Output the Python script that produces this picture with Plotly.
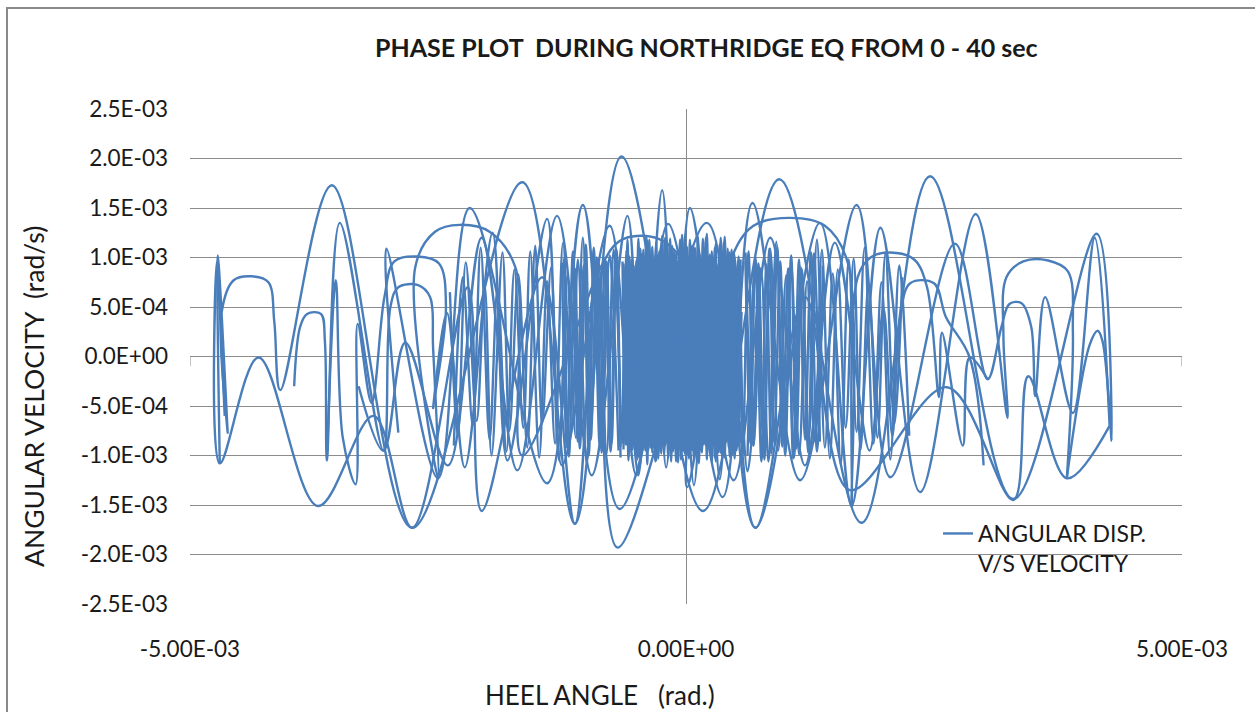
import plotly.graph_objects as go

# ---- values (units of 1e-4 rad and 1e-4 rad/s) ----
SEG1_X = [-47.0,-47.2,-46.2,-46.8,-45.6,-43.8,-42.1,-41.5,-40.9,-35.7,-27.6,-16.5,-11.2,-6.5,1.7,9.4,17.7,24.6,33.0,41.4,42.9,42.0,41.5,40.7,38.4]
SEG1_Y = [-10.8,10.2,-7.7,4.5,7.7,8.1,7.5,3.5,-3.4,17.3,-17.3,17.6,-16.9,20.2,-15.6,17.9,-16.8,18.2,-14.4,12.4,-8.5,1.5,2.6,1.2,-12.2]

SEG2_X = [38.4,39.0,38.5,36.5,34.0,32.3,32.0,32.4,29.2,23.6,19.6,16.7,13.5,7.0,2.1,-6.7,-10.4,-14.0,-21.8,-25.0,-30.2,-29.0]
SEG2_Y = [-12.2,2.5,8.6,9.7,9.6,8.0,2.0,-6.2,14.4,-13.7,13.0,-15.1,13.5,-17.3,13.5,-15.4,15.3,-12.8,15.0,-12.3,10.9,-7.7]

SEG3_X = [-36.2,-35.3,-34.6,-33.3,-33.1,-31.7,-30.4,-29.4,-27.1,-24.9,-24.2,-25.5,-24.1,-22.3,-19.5,-18.0,-14.0,-12.5,-7.7,-5.0,-1.8,3.7,6.7,11.5,17.2,20.6,27.1,30.4,31.8,32.6,33.8,34.8,35.2,36.2,39.0,41.2,42.7]
SEG3_Y = [-10.5,7.7,-8.2,-12.9,3.3,-4.7,6.0,9.6,10.1,9.4,5.0,-5.2,4.4,-11.2,12.5,-10.5,13.9,-11.0,13.2,-12.0,13.4,-14.2,15.5,-12.5,15.3,-12.2,11.4,-2.3,3.0,5.3,5.4,3.0,-4.0,6.0,-5.7,12.0,-7.0]

SEG4_X = [42.7,38.4,34.5,33.0,26.3,16.5,12.0,7.0,3.0,-6.9,-9.0,-11.2,-14.5,-20.6,-22.0,-27.6,-31.5,-37.1,-43.1,-47.0,-47.3,-46.5]
SEG4_Y = [-7.0,-12.3,-2.0,-14.5,-3.1,-13.5,6.0,-17.3,8.0,-19.3,9.0,-16.9,8.0,-15.6,7.0,-17.3,-6.0,-15.1,-0.1,-10.8,9.5,-6.0]

SEG5_X = [-39.5,-38.9,-38.2,-36.8,-36.4,-36.2,-34.9,-30.5,-29.8,-29.0,-27.0,-25.8,-25.5,-25.0,-27.3,-25.3,-22.8,-19.8,-17.2,-16.5,-8.6,-6.8,-4.6,-2.2,0.2,0.1,4.4,6.8,10.5,14.0,16.3,16.7,17.3,18.6,20.6,23.0,24.3,25.5,25.8,27.9,28.6,30.4]
SEG5_Y = [-3.0,3.0,4.3,4.3,1.5,-10.5,13.5,-9.5,5.0,7.0,7.2,6.0,1.0,-12.3,9.0,12.6,13.3,12.6,9.0,-10.0,9.0,11.6,12.2,11.6,8.5,-13.2,9.5,13.2,14.0,13.2,9.5,-15.1,8.0,10.0,10.5,9.8,7.0,-4.1,2.4,-9.0,-0.1,-2.3]

SEG6_X = [30.0,28.6,26.2,25.0,22.6,21.6,20.8,19.9,18.5,15.0,12.0,8.5,4.8,0.4,-1.0,-2.4,-4.5,-5.9,-9.5,-13.0,-17.0,-20.6,-24.0,-28.3,-30.5,-33.0]
SEG6_Y = [-11.0,-0.1,4.0,7.4,7.4,4.0,-8.0,4.9,-9.5,11.5,-11.0,12.0,-12.5,15.0,-8.0,16.8,-9.0,14.2,-12.0,14.2,-11.5,12.0,-11.0,1.4,-9.5,-3.0]

MID_E_X = [-23.8,-23.0,-22.2,-21.1,-20.3,-19.6,-18.5,-17.8,-16.9,-16.0,-15.2,-14.5,-13.6,-12.8,-12.0,-11.1,-10.4,-9.6,-8.8,-8.0,-7.3,-6.5]
MID_E_Y = [6.5,-8.0,9.5,-6.5,7.2,-10.0,10.5,-7.5,8.3,-9.2,11.2,-6.8,9.0,-10.5,8.0,-8.2,12.0,-7.0,9.6,-9.8,10.8,-8.5]

MID_F_X = [-6.8,-7.7,-8.5,-9.2,-10.0,-10.9,-11.5,-12.4,-13.2,-14.0,-14.8,-15.7,-16.4,-17.3,-18.1,-19.0,-19.8,-20.7,-21.5,-22.5,-23.4]
MID_F_Y = [-9.5,10.2,-7.8,8.6,-10.8,9.8,-6.9,11.5,-8.8,7.6,-10.2,10.6,-7.2,8.8,-9.6,6.9,-8.4,11.0,-7.0,8.0,-9.0]

MID_G_X = [6.0,6.8,7.6,8.3,9.1,9.9,10.6,11.4,12.2,13.0,13.7,14.5,15.3,16.1,16.9,17.6,18.4,19.3,20.1,21.0,21.8]
MID_G_Y = [10.5,-9.0,8.6,-10.6,11.6,-7.8,9.4,-9.9,7.6,-8.6,10.8,-10.3,8.8,-7.2,9.9,-9.4,7.4,-8.2,10.4,-6.8,8.0]

MID_H_X = [22.5,21.5,20.6,19.7,18.9,18.0,17.2,16.4,15.6,14.8,14.0,13.2,12.4,11.6,10.9,10.1,9.3,8.5,7.8,7.0,6.2]
MID_H_Y = [-8.0,9.2,-10.4,7.5,-8.8,11.0,-7.6,9.8,-10.9,8.4,-9.2,11.8,-7.9,9.0,-10.2,8.2,-9.5,10.9,-8.3,9.6,-10.0]

NEAR_L_X = [-12.5,-12.0,-11.4,-10.9,-10.3,-9.8,-9.3,-8.7,-8.2,-7.6,-7.1,-6.6]
NEAR_L_Y = [9.5,-9.2,10.6,-8.6,9.2,-10.0,11.0,-9.0,9.8,-9.6,10.4,-9.1]
NEAR_L2_X = [-6.6,-7.0,-7.5,-8.0,-8.5,-9.0,-9.6,-10.1,-10.7,-11.2,-11.8,-12.3]
NEAR_L2_Y = [-10.2,10.8,-8.8,9.6,-9.7,10.0,-8.4,11.3,-9.3,8.9,-10.1,9.9]
NEAR_R_X = [5.8,6.3,6.8,7.3,7.9,8.4,8.9,9.5,10.0,10.6,11.1,11.7,12.3,12.9,13.5]
NEAR_R_Y = [-9.9,10.6,-9.0,9.4,-10.4,10.9,-8.7,9.6,-10.0,10.2,-9.3,8.8,-9.7,10.4,-8.6]
NEAR_R2_X = [13.8,13.2,12.6,12.0,11.4,10.8,10.3,9.7,9.2,8.6,8.1,7.6,7.0,6.5,6.0]
NEAR_R2_Y = [9.2,-9.6,10.5,-8.4,9.8,-10.3,8.9,-9.1,11.1,-9.8,9.3,-10.6,10.0,-8.8,9.6]
NEAR_B_X = [-6.0,-4.8,-3.2,-2.0,-0.6,0.8,2.2,3.4,4.8,6.2,7.5]
NEAR_B_Y = [8.0,-12.0,9.5,-11.2,10.0,-13.0,9.0,-12.4,10.5,-11.6,9.0]

CORE_A_X = [-6.4,-6.1,-5.9,-5.5,-5.3,-4.9,-4.6,-4.4,-4.0,-3.8,-3.4,-3.1,-2.9,-2.5,-2.2,-1.9,-1.6,-1.3,-1.0,-0.8,-0.4,-0.1,0.2,0.5,0.7,1.1,1.4,1.6,2.0,2.3,2.6,2.9,3.1,3.5,3.8,4.1,4.4,4.7,5.0,5.4]
CORE_A_Y = [9.6,-8.9,11.8,-9.3,9.1,-10.4,10.9,-8.5,12.2,-9.5,11.1,-10.6,10.2,-9.8,8.9,-8.8,11.9,-9.6,10.4,-10.7,12.3,-9.9,9.8,-9.0,11.2,-10.5,10.3,-9.7,12.0,-9.1,10.6,-10.2,9.3,-9.7,11.5,-8.6,10.5,-9.9,9.0,-8.7]

CORE_B_X = [5.7,5.3,4.9,4.6,4.3,3.9,3.6,3.4,3.0,2.7,2.5,2.1,1.8,1.5,1.3,0.9,0.6,0.4,0.0,-0.3,-0.5,-0.9,-1.2,-1.4,-1.8,-2.1,-2.3,-2.7,-3.0,-3.2,-3.6,-3.9,-4.1,-4.5,-4.8,-5.0,-5.4,-5.7,-6.0,-6.3]
CORE_B_Y = [-9.0,10.1,-10.3,10.8,-9.2,12.1,-9.9,11.3,-10.6,10.0,-9.6,12.4,-8.9,9.9,-10.8,11.0,-9.5,11.8,-9.1,10.9,-10.4,9.6,-9.3,11.2,-10.2,12.0,-9.0,10.6,-10.5,9.8,-9.2,11.7,-9.5,10.3,-10.1,9.7,-9.4,10.1,-8.9,9.4]

CORE_C_X = [-6.2,-5.7,-5.2,-4.8,-4.2,-3.6,-3.2,-2.7,-2.0,-1.5,-1.1,-0.5,0.0,0.6,1.0,1.5,2.2,2.8,3.3,3.7,4.3,4.9,5.5]
CORE_C_Y = [7.5,-7.0,8.2,-6.5,7.8,-7.8,6.9,-7.2,8.5,-6.8,7.4,-8.0,7.0,-7.5,8.3,-6.9,7.7,-7.9,6.8,-7.3,8.1,-6.6,7.2]

CORE_D_X = [5.6,5.0,4.5,3.9,3.5,2.9,2.4,1.9,1.3,0.8,0.3,-0.2,-0.8,-1.3,-1.7,-2.3,-2.9,-3.4,-3.9,-4.5,-5.0,-5.5,-6.1]
CORE_D_Y = [-6.2,5.8,-5.5,6.4,-6.0,5.2,-6.6,5.9,-5.3,6.2,-5.8,5.6,-6.4,5.0,-5.9,6.3,-5.4,5.7,-6.1,5.3,-5.7,6.0,-5.2]

CORE_E_X = [-6.3,-6.0,-5.8,-5.4,-5.1,-4.8,-4.5,-4.2,-3.9,-3.7,-3.3,-3.0,-2.8,-2.4,-2.1,-1.8,-1.5,-1.2,-0.9,-0.6,-0.3,0.1,0.3,0.6,0.9,1.2,1.5,1.9,2.1,2.4,2.8,3.0,3.3,3.6,3.9,4.2,4.6,4.8,5.2,5.5]
CORE_E_Y = [-9.4,10.7,-10.5,9.8,-9.8,11.9,-8.8,10.1,-10.9,10.5,-9.2,11.6,-9.9,12.2,-9.0,10.0,-10.6,10.6,-8.9,11.8,-9.6,11.1,-10.3,10.2,-9.8,12.1,-9.1,10.9,-10.4,10.3,-9.0,11.4,-9.7,10.6,-10.2,10.0,-8.8,9.6,-9.1,9.2]

CORE_F_X = [5.5,5.1,4.8,4.4,4.2,3.8,3.5,3.2,2.9,2.6,2.3,2.0,1.7,1.4,1.1,0.8,0.5,0.2,-0.1,-0.4,-0.7,-1.0,-1.3,-1.6,-1.9,-2.2,-2.5,-2.8,-3.1,-3.4,-3.7,-4.0,-4.3,-4.6,-4.9,-5.2,-5.5,-5.8,-6.1,-6.4]
CORE_F_Y = [9.8,-9.5,10.4,-10.1,10.9,-9.7,12.0,-9.3,11.0,-10.7,10.1,-9.0,11.9,-9.6,9.7,-10.4,11.2,-9.9,12.3,-9.1,10.8,-10.6,9.8,-9.4,11.6,-9.8,11.1,-10.3,10.2,-9.7,11.8,-9.3,10.8,-10.5,10.0,-9.0,9.7,-9.4,9.2,-8.8]

CORE_G_X = [-6.2,-5.9,-5.5,-5.1,-4.8,-4.4,-4.1,-3.7,-3.4,-3.0,-2.6,-2.3,-1.9,-1.6,-1.2,-0.9,-0.5,-0.2,0.2,0.5,0.9,1.2,1.6,1.9,2.3,2.6,3.0,3.4,3.7,4.1,4.4,4.8,5.1,5.5]
CORE_G_Y = [-8.0,8.8,-7.4,9.2,-8.3,8.0,-7.7,9.4,-8.6,8.3,-7.2,9.0,-8.4,8.6,-7.9,9.3,-8.1,8.2,-7.6,9.1,-8.7,8.4,-7.3,9.2,-8.2,8.7,-7.8,9.0,-8.5,8.1,-7.5,8.9,-8.0,8.3]

CORE_H_X = [5.6,5.2,4.7,4.3,3.8,3.4,3.0,2.5,2.1,1.7,1.2,0.8,0.4,-0.1,-0.5,-1.0,-1.4,-1.8,-2.3,-2.7,-3.1,-3.6,-4.0,-4.4,-4.9,-5.3,-5.8,-6.2]
CORE_H_Y = [4.5,-4.8,5.2,-4.2,4.9,-5.4,4.3,-4.6,5.5,-4.1,4.7,-5.2,4.4,-4.9,5.3,-4.4,4.8,-5.1,4.2,-4.7,5.4,-4.3,4.6,-5.0,4.9,-4.5,5.1,-4.4]

SEGMENTS = [
    (SEG1_X, SEG1_Y), (SEG2_X, SEG2_Y), (SEG3_X, SEG3_Y), (SEG4_X, SEG4_Y),
    (SEG5_X, SEG5_Y), (SEG6_X, SEG6_Y),
    (MID_E_X, MID_E_Y), (MID_F_X, MID_F_Y), (MID_G_X, MID_G_Y), (MID_H_X, MID_H_Y),
    (NEAR_L_X, NEAR_L_Y), (NEAR_L2_X, NEAR_L2_Y), (NEAR_R_X, NEAR_R_Y), (NEAR_R2_X, NEAR_R2_Y),
    (NEAR_B_X, NEAR_B_Y),
    (CORE_A_X, CORE_A_Y), (CORE_B_X, CORE_B_Y), (CORE_C_X, CORE_C_Y), (CORE_D_X, CORE_D_Y),
    (CORE_E_X, CORE_E_Y), (CORE_F_X, CORE_F_Y), (CORE_G_X, CORE_G_Y), (CORE_H_X, CORE_H_Y),
]
UNIT = 1e-4

Y_TICK_VALUES = [-2.5e-3, -2.0e-3, -1.5e-3, -1.0e-3, -5.0e-4, 0.0, 5.0e-4, 1.0e-3, 1.5e-3, 2.0e-3, 2.5e-3]
Y_TICK_LABELS = ["-2.5E-03", "-2.0E-03", "-1.5E-03", "-1.0E-03", "-5.0E-04", "0.0E+00",
                 "5.0E-04", "1.0E-03", "1.5E-03", "2.0E-03", "2.5E-03"]
X_TICK_VALUES = [-5e-3, 0.0, 5e-3]
X_TICK_LABELS = ["-5.00E-03", "0.00E+00", "5.00E-03"]

TITLE = "PHASE PLOT  DURING NORTHRIDGE EQ FROM 0 - 40 sec"
X_TITLE = "HEEL ANGLE   (rad.)"
Y_TITLE = "ANGULAR VELOCITY  (rad/s)"
SERIES_NAME = "ANGULAR DISP.<br>V/S VELOCITY"

BLUE = "#4A7EBB"
FONT = "Lato, 'Open Sans', sans-serif"
W, H = 1255, 712
L, R, T, B = 190, 73, 109, 108

fig = go.Figure()
for i, (xs, ys) in enumerate(SEGMENTS):
    fig.add_trace(go.Scatter(
        x=[v * UNIT for v in xs], y=[v * UNIT for v in ys],
        mode="lines", line=dict(color=BLUE, width=2.4, shape="spline", smoothing=1.0),
        name=SERIES_NAME, legendgroup="s", showlegend=(i == 0), hoverinfo="skip",
    ))

pw, ph = W - L - R, H - T - B
def px(xp): return (xp - L) / pw
def py(yp): return (H - B - yp) / ph

fig.update_layout(
    width=W, height=H, margin=dict(l=L, r=R, t=T, b=B),
    paper_bgcolor="white", plot_bgcolor="white",
    font=dict(family=FONT, color="#1a1a1a", size=22),
    showlegend=True,
    legend=dict(x=px(938), y=py(512), xanchor="left", yanchor="top",
                bgcolor="rgba(0,0,0,0)", font=dict(size=23, color="#1a1a1a"),
                valign="top", itemwidth=30),
    xaxis=dict(range=[-5e-3, 5e-3], tickvals=X_TICK_VALUES, ticktext=X_TICK_LABELS,
               showgrid=False, zeroline=True, zerolinecolor="#8c8c8c", zerolinewidth=1,
               showline=False, ticks="", ticklabelstandoff=29, tickfont=dict(size=22.5)),
    yaxis=dict(range=[-2.5e-3, 2.5e-3], tickvals=Y_TICK_VALUES, ticktext=Y_TICK_LABELS,
               showgrid=True, gridcolor="#8c8c8c", gridwidth=1, zeroline=False,
               showline=False, ticks="", ticklabelstandoff=21, tickfont=dict(size=22.5)),
    annotations=[
        dict(text="<b>" + TITLE + "</b>", xref="paper", yref="paper", x=px(706), y=py(47),
             xanchor="center", yanchor="middle", showarrow=False, font=dict(size=25)),
        dict(text=X_TITLE, xref="paper", yref="paper", x=px(600), y=py(695),
             xanchor="center", yanchor="middle", showarrow=False, font=dict(size=26)),
        dict(text=Y_TITLE, xref="paper", yref="paper", x=px(34), y=py(397), textangle=-90,
             xanchor="center", yanchor="middle", showarrow=False, font=dict(size=26.5)),
    ],
    shapes=[
        dict(type="rect", xref="paper", yref="paper", x0=px(7), x1=px(1275), y0=py(730), y1=py(8),
             line=dict(color="#8a8a8a", width=2), fillcolor="rgba(0,0,0,0)", layer="below"),
        dict(type="line", xref="x", yref="y", x0=-5e-3, x1=-5e-3, y0=0, y1=-1e-4,
             line=dict(color="#8c8c8c", width=1)),
        dict(type="line", xref="x", yref="y", x0=5e-3, x1=5e-3, y0=0, y1=-1e-4,
             line=dict(color="#8c8c8c", width=1)),
    ],
)

fig.write_html("out.html", config={"displayModeBar": False},
               post_script="document.body.style.margin='0';")
